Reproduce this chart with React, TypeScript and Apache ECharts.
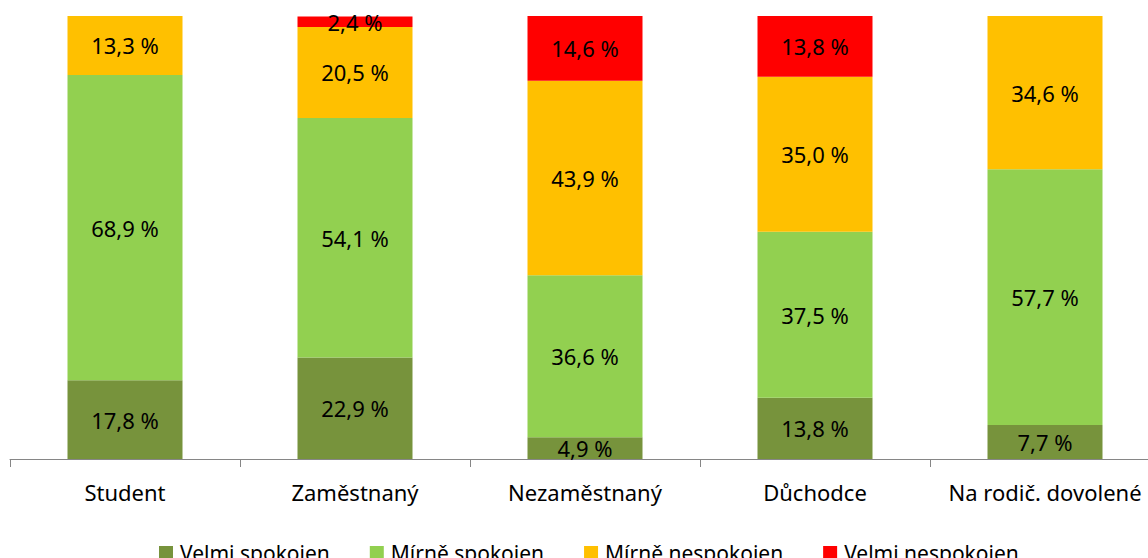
import React, { useEffect, useRef } from "react";
import * as echarts from "echarts";

const categories = ["Student", "Zaměstnaný", "Nezaměstnaný", "Důchodce", "Na rodič. dovolené"];
const seriesNames = ["Velmi spokojen", "Mírně spokojen", "Mírně nespokojen", "Velmi nespokojen"];
const velmiSpokojen = [17.8, 22.9, 4.9, 13.8, 7.7];
const mirneSpokojen = [68.9, 54.1, 36.6, 37.5, 57.7];
const mirneNespokojen = [13.3, 20.5, 43.9, 35.0, 34.6];
const velmiNespokojen = [null, 2.4, 14.6, 13.8, null];
const colors = ["#77933C", "#92D050", "#FFC000", "#FF0000"];

const FONT = "'Noto Sans', 'Open Sans', sans-serif";

export default function App() {
  const ref = useRef<HTMLDivElement>(null);
  useEffect(() => {
    document.body.style.margin = "0";
    document.body.style.overflow = "hidden";
    if (!ref.current) return;
    const chart = echarts.init(ref.current, null, { renderer: "svg" });
    const data = [velmiSpokojen, mirneSpokojen, mirneNespokojen, velmiNespokojen];
    chart.setOption({
      animation: false,
      color: colors,
      textStyle: { fontFamily: FONT },
      grid: { left: 10, top: 16, right: 0, height: 443, containLabel: false },
      legend: {
        left: 154,
        top: 537,
        itemWidth: 14,
        itemHeight: 13,
        itemGap: 40,
        icon: "rect",
        textStyle: { fontSize: 21, color: "#000", fontFamily: FONT, padding: [0, 0, 0, 2] },
        data: seriesNames,
      },
      xAxis: {
        type: "category",
        data: categories,
        axisLine: { show: true, lineStyle: { color: "#868686", width: 1 } },
        axisTick: { show: true, length: 8, alignWithLabel: false, lineStyle: { color: "#868686" } },
        axisLabel: { fontSize: 22, color: "#000", margin: 22, fontFamily: FONT, interval: 0 },
      },
      yAxis: {
        type: "value",
        min: 0,
        max: 100,
        show: false,
        splitLine: { show: false },
      },
      series: seriesNames.map((name, i) => ({
        name,
        type: "bar",
        stack: "total",
        barCategoryGap: "50%",
        data: data[i],
        itemStyle: { color: colors[i] },
        label: {
          show: true,
          position: "inside",
          fontSize: 22,
          color: "#000",
          fontFamily: FONT,
          formatter: (p: any) => (p.value == null ? "" : Number(p.value).toFixed(1).replace(".", ",") + " %"),
        },
      })),
    });
    return () => chart.dispose();
  }, []);
  return (
    <div style={{ width: 1148, height: 558, overflow: "hidden", position: "relative" }}>
      <div ref={ref} style={{ width: 1160, height: 558, position: "absolute", left: 0, top: 0 }} />
    </div>
  );
}
